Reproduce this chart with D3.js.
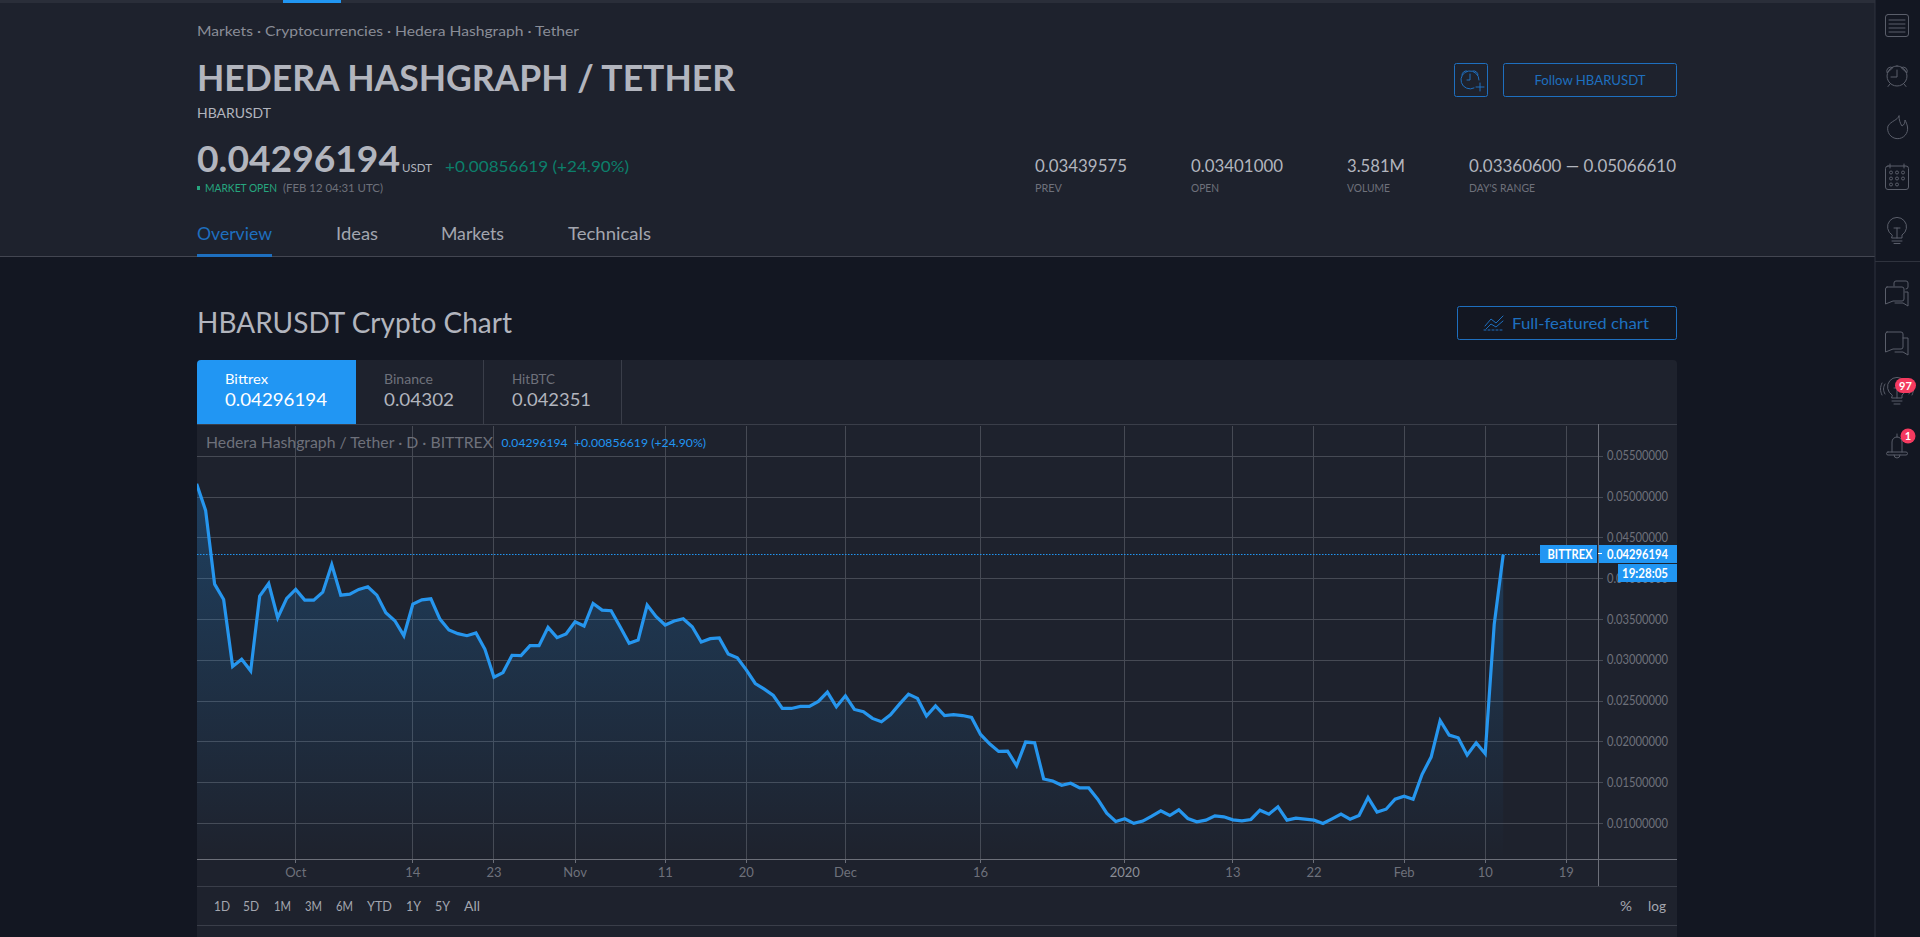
<!DOCTYPE html>
<html>
<head>
<meta charset="utf-8">
<title>HBARUSDT</title>
<script src="https://d3js.org/d3.v7.min.js"></script>
<style>
    html, body { margin: 0; padding: 0; background: #131722; overflow: hidden; }
    svg { display: block; }
    text { font-family: Lato, "Noto Sans", sans-serif; }
</style>
</head>
<body>
<div id="page"></div>
<script>
// Daily closes, first one is 20 Sep 2019
const firstDay = "2019-09-20";
const closes = [
    0.05163, 0.04837, 0.03933, 0.03745, 0.02923, 0.03012, 0.02870, 0.03786, 0.03941, 0.03521,
    0.03758, 0.03868, 0.03737, 0.03737, 0.03835, 0.04173, 0.03798, 0.03811, 0.03868, 0.03900,
    0.03798, 0.03582, 0.03485, 0.03301, 0.03688, 0.03741, 0.03753, 0.03505, 0.03371, 0.03326,
    0.03301, 0.03334, 0.03134, 0.02792, 0.02849, 0.03061, 0.03057, 0.03179, 0.03179, 0.03403,
    0.03277, 0.03322, 0.03472, 0.03420, 0.03696, 0.03615, 0.03607, 0.03411, 0.03208, 0.03248,
    0.03676, 0.03534, 0.03432, 0.03481, 0.03509, 0.03411, 0.03224, 0.03265, 0.03273, 0.03077,
    0.03029, 0.02882, 0.02715, 0.02646, 0.02568, 0.02409, 0.02409, 0.02434, 0.02434, 0.02495,
    0.02609, 0.02430, 0.02564, 0.02397, 0.02369, 0.02287, 0.02246, 0.02332, 0.02462, 0.02585,
    0.02532, 0.02316, 0.02440, 0.02322, 0.02334, 0.02322, 0.02298, 0.02090, 0.01976, 0.01883,
    0.01887, 0.01708, 0.01997, 0.01988, 0.01545, 0.01520, 0.01467, 0.01492, 0.01435, 0.01435,
    0.01297, 0.01126, 0.01024, 0.01056, 0.01000, 0.01028, 0.01089, 0.01154, 0.01097, 0.01166,
    0.01060, 0.01020, 0.01040, 0.01093, 0.01081, 0.01044, 0.01032, 0.01048, 0.01162, 0.01113,
    0.01203, 0.01040, 0.01064, 0.01052, 0.01040, 0.01000, 0.01056, 0.01113, 0.01052, 0.01097,
    0.01317, 0.01138, 0.01174, 0.01297, 0.01333, 0.01297, 0.01602, 0.01813, 0.02261, 0.02082,
    0.02049, 0.01838, 0.01988, 0.01854, 0.03440, 0.04296194
];
const lastPrice = 0.04296194;

const priceTicks = [0.01, 0.015, 0.02, 0.025, 0.03, 0.035, 0.04, 0.045, 0.05, 0.055];
const timeTickDays = ["2019-10-01", "2019-10-14", "2019-10-23", "2019-11-01", "2019-11-11", "2019-11-20", "2019-12-01",
    "2019-12-16", "2020-01-01", "2020-01-13", "2020-01-22", "2020-02-01", "2020-02-10", "2020-02-19"];
const timeTickLabels = ["Oct", "14", "23", "Nov", "11", "20", "Dec", "16", "2020", "13", "22", "Feb", "10", "19"];
const rangeButtons = ["1D", "5D", "1M", "3M", "6M", "YTD", "1Y", "5Y", "All"];
const navTabs = ["Overview", "Ideas", "Markets", "Technicals"];
const exchanges = ["Bittrex", "Binance", "HitBTC"];
const exchangePrices = ["0.04296194", "0.04302", "0.042351"];
const statValues = ["0.03439575", "0.03401000", "3.581M", "0.03360600 — 0.05066610"];
const statLabels = ["PREV", "OPEN", "VOLUME", "DAY'S RANGE"];

const width = 1920;
const height = 937;
const blue = "#2196f3";
const linkBlue = "#1e6fbf";
const panel = "#1e222d";
const grid = "#464a54";
const axisLine = "#6c6f79";
const dim = "#6e717b";
const soft = "#a3a6af";
const light = "#b2b5be";
const iconGray = "#5a5e6a";

const parseDay = d3.utcParse("%Y-%m-%d");
const days = closes.map((d, i) => d3.utcDay.offset(parseDay(firstDay), i));

const svg = d3.select("#page").append("svg")
    .attr("width", width)
    .attr("height", height);

// Small helper for all the page text, w squeezes the text to a measured width
function label(text, x, y, size, color, opts = {}) {
    const t = svg.append("text")
        .attr("x", x)
        .attr("y", y)
        .attr("font-size", size)
        .attr("fill", color)
        .attr("font-weight", opts.weight || 400)
        .attr("text-anchor", opts.anchor || "start")
        .text(text);
    if (opts.w) t.attr("textLength", opts.w).attr("lengthAdjust", "spacingAndGlyphs");
    return t;
}

function box(x, y, w, h, fill) {
    return svg.append("rect").attr("x", x).attr("y", y).attr("width", w).attr("height", h).attr("fill", fill);
}

function icon(d, color) {
    svg.append("path")
        .attr("d", d)
        .attr("fill", "none")
        .attr("stroke", color || iconGray)
        .attr("stroke-width", 1)
        .attr("stroke-linecap", "round")
        .attr("stroke-linejoin", "round");
}

// ---- Page backgrounds
box(0, 0, width, height, "#131722");
box(0, 0, 1875, 256, panel);
box(0, 0, 1875, 3, "#2a2e39");
box(283, 0, 58, 3, blue);
box(0, 256, 1875, 1, "#434651");
box(1874.5, 0, 1, height, "#2f333e");
box(1875, 261, 45, 1, "#2f333e");

// ---- Symbol header
label("Markets · Cryptocurrencies · Hedera Hashgraph · Tether", 197, 36, 13, "#8a8d97", { w: 382 });
label("HEDERA HASHGRAPH / TETHER", 197, 91, 36, light, { weight: 700, w: 538 });
label("HBARUSDT", 197, 118, 14, light, { w: 74 });
label("0.04296194", 197, 172, 36, light, { weight: 700, w: 203 });
label("USDT", 402, 172, 12, light, { w: 30 });
label("+0.00856619 (+24.90%)", 445, 172, 16, "#0c7f6b", { w: 184 });
box(197, 186, 3, 4, "#26a67f");
label("MARKET OPEN", 205, 192, 11, "#26a67f", { w: 72 });
label("(FEB 12 04:31 UTC)", 283, 192, 11, dim, { w: 100 });

const statX = [1035, 1191, 1347, 1469];
const statW = [92, 92, 58, 207];
const statLabelW = [27, 28, 43, 66];
statValues.forEach((d, i) => label(d, statX[i], 172, 17, light, { w: statW[i] }));
statLabels.forEach((d, i) => label(d, statX[i], 192, 11, dim, { w: statLabelW[i] }));

const navX = [197, 336, 441, 568];
const navW = [75, 42, 63, 83];
navTabs.forEach((d, i) => label(d, navX[i], 240, 17, i === 0 ? linkBlue : soft, { w: navW[i] }));
box(197, 254, 75, 3, linkBlue);

// Alert and follow buttons
svg.append("rect").attr("x", 1454.5).attr("y", 63.5).attr("width", 33).attr("height", 33).attr("rx", 2)
    .attr("fill", "none").attr("stroke", linkBlue);
svg.append("rect").attr("x", 1503.5).attr("y", 63.5).attr("width", 173).attr("height", 33).attr("rx", 2)
    .attr("fill", "none").attr("stroke", linkBlue);
label("Follow HBARUSDT", 1590, 85, 14, linkBlue, { anchor: "middle", w: 111 });
icon("M1474 88A9 9 0 1 1 1479 80 M1470 74V80H1467 M1462 75a4 4 0 0 1 5-4 M1478 75a4 4 0 0 0-5-4 M1480 83V91 M1476 87H1484", linkBlue);

// ---- Chart section title
label("HBARUSDT Crypto Chart", 197, 333, 28, light, { w: 315 });
svg.append("rect").attr("x", 1457.5).attr("y", 306.5).attr("width", 219).attr("height", 33).attr("rx", 2)
    .attr("fill", "none").attr("stroke", linkBlue);
label("Full-featured chart", 1512, 329, 15, linkBlue, { w: 137 });
icon("M1485 326l6-7 5 4 7-7", linkBlue);
icon("M1484 330h2 M1488 330h2 M1492 330h2 M1496 330h2 M1500 330h2 M1486 329l5-5 5 3 7-6", linkBlue);

// ---- Chart panel, only the top corners are rounded
svg.append("path")
    .attr("d", "M197 937V364a4 4 0 0 1 4-4H1673a4 4 0 0 1 4 4V937Z")
    .attr("fill", panel);
svg.append("path")
    .attr("d", "M197 424V364a4 4 0 0 1 4-4H356V424Z")
    .attr("fill", blue);
box(483, 360, 1, 64, "#3a3e49");
box(621, 360, 1, 64, "#3a3e49");
box(197, 424, 1480, 1, "#3a3e49");

const exchangeX = [225, 384, 512];
const exchangeNameW = [43, 49, 43];
const exchangePriceW = [102, 70, 79];
exchanges.forEach((d, i) => label(d, exchangeX[i], 384, 13, i === 0 ? "#ffffff" : dim, { w: exchangeNameW[i] }));
exchangePrices.forEach((d, i) => label(d, exchangeX[i], 406, 18, i === 0 ? "#ffffff" : light, { w: exchangePriceW[i] }));

// ---- Scales
const x = d3.scaleUtc()
    .domain([parseDay(firstDay), parseDay("2020-02-19")])
    .range([196.6, 1566.3]);
const y = d3.scaleLinear()
    .domain([0.01, 0.055])
    .range([823.4, 456.3]);

const plotBottom = 859;
const plotRight = 1598;
const plotTop = 424;
const plotLeft = 197;
const tickDates = timeTickDays.map(parseDay);

// ---- Grid lines
const xGrid = svg.append("g")
    .attr("transform", `translate(0,${plotBottom})`)
    .attr("shape-rendering", "crispEdges")
    .call(d3.axisBottom(x).offset(0).tickValues(tickDates).tickSize(-(plotBottom - plotTop - 2)).tickFormat(""));
xGrid.select(".domain").remove();
xGrid.selectAll("line").attr("stroke", grid);

const yGrid = svg.append("g")
    .attr("transform", `translate(${plotRight},0)`)
    .attr("shape-rendering", "crispEdges")
    .call(d3.axisLeft(y).offset(0).tickValues(priceTicks).tickSize(plotRight - plotLeft).tickFormat(""));
yGrid.select(".domain").remove();
yGrid.selectAll("line").attr("stroke", grid);

// ---- Area and line
const defs = svg.append("defs");
defs.append("clipPath").attr("id", "plot-clip")
    .append("rect")
    .attr("x", plotLeft).attr("y", plotTop)
    .attr("width", plotRight - plotLeft).attr("height", plotBottom - plotTop);

const areaFill = defs.append("linearGradient")
    .attr("id", "area-fill")
    .attr("gradientUnits", "userSpaceOnUse")
    .attr("x1", 0).attr("y1", y(d3.max(closes)))
    .attr("x2", 0).attr("y2", plotBottom);
areaFill.append("stop").attr("offset", "0%").attr("stop-color", blue).attr("stop-opacity", 0.26);
areaFill.append("stop").attr("offset", "100%").attr("stop-color", blue).attr("stop-opacity", 0);

const plot = svg.append("g").attr("clip-path", "url(#plot-clip)");
plot.append("path")
    .datum(closes)
    .attr("d", d3.area().x((d, i) => x(days[i])).y0(plotBottom).y1(d => y(d)))
    .attr("fill", "url(#area-fill)");
plot.append("path")
    .datum(closes)
    .attr("d", d3.line().x((d, i) => x(days[i])).y(d => y(d)))
    .attr("fill", "none")
    .attr("stroke", "#2696ee")
    .attr("stroke-width", 3.2)
    .attr("stroke-linejoin", "miter");

// Last price dotted line
svg.append("line")
    .attr("x1", plotLeft).attr("x2", 1540)
    .attr("y1", y(lastPrice)).attr("y2", y(lastPrice))
    .attr("stroke", blue)
    .attr("stroke-dasharray", "1.5,1.5");

// ---- Axes
const xAxis = svg.append("g")
    .attr("transform", `translate(0,${plotBottom})`)
    .call(d3.axisBottom(x).offset(0).tickValues(tickDates).tickSize(4).tickPadding(5).tickFormat((d, i) => timeTickLabels[i]));
xAxis.select(".domain").remove();
xAxis.selectAll("line").attr("stroke", axisLine).attr("shape-rendering", "crispEdges");
xAxis.selectAll("text")
    .attr("font-family", null)
    .attr("font-size", 13)
    .attr("fill", (d, i) => timeTickLabels[i] === "2020" ? "#8b8e97" : dim);

const yAxis = svg.append("g")
    .attr("transform", `translate(${plotRight},0)`)
    .call(d3.axisRight(y).offset(0).tickValues(priceTicks).tickSize(5).tickPadding(4).tickFormat(d3.format(".8f")));
yAxis.select(".domain").remove();
yAxis.selectAll("line").attr("stroke", grid).attr("shape-rendering", "crispEdges");
yAxis.selectAll("text")
    .attr("font-family", null)
    .attr("font-size", 13)
    .attr("fill", dim)
    .attr("textLength", 61)
    .attr("lengthAdjust", "spacingAndGlyphs");

box(plotLeft, plotBottom, 1480, 1, axisLine);
box(plotRight, plotTop, 1, 886 - plotTop, axisLine);
box(plotLeft, 886, 1480, 1, "#3a3e49");
box(plotLeft, 925, 1480, 1, "#3a3e49");

// ---- Last price tags, the time tag sits over the 0.04 tick like in the original
box(1540, 545, 57, 18, blue);
box(plotRight + 1, 545, 78, 18, blue);
box(1618, 564, 59, 18, blue);
box(plotRight, 553, 4, 1, "#ffffff");
label("BITTREX", 1570, 558.5, 13, "#ffffff", { anchor: "middle", weight: 700, w: 45 });
label("0.04296194", 1607, 558.5, 13, "#ffffff", { weight: 700, w: 61 });
label("19:28:05", 1645, 577.5, 13, "#ffffff", { anchor: "middle", weight: 700, w: 46 });

// ---- Chart legend
label("Hedera Hashgraph / Tether · D · BITTREX", 206, 448, 15, dim, { w: 287 });
label("0.04296194", 501.5, 447, 12, blue, { w: 66 });
label("+0.00856619 (+24.90%)", 574, 447, 12, blue, { w: 132 });

// ---- Range buttons under the chart
const rangeX = [214, 243, 274, 305, 336, 367, 406, 435, 464];
const rangeW = [16, 16, 17, 17, 17, 25, 15, 15, 16];
rangeButtons.forEach((d, i) => label(d, rangeX[i], 911, 13, soft, { w: rangeW[i] }));
label("%", 1620, 911, 13, soft, { w: 12 });
label("log", 1648, 911, 13, soft, { w: 18 });

// ---- Right hand toolbar icons
// List
icon("M1888 14.5H1906a2.5 2.5 0 0 1 2.5 2.5V34a2.5 2.5 0 0 1-2.5 2.5H1888a2.5 2.5 0 0 1-2.5-2.5V17a2.5 2.5 0 0 1 2.5-2.5Z");
icon("M1889 20H1905 M1889 24H1905 M1889 28H1905 M1889 32H1905");
// Alarm clock
icon("M1897 66a10 10 0 1 0 .01 0Z M1897 70V77H1891 M1887 72.500a4 4 0 0 1 5.500-5Z M1907 72.500a4 4 0 0 0-5.500-5Z M1890 84l-2 2.500 M1904 84l2 2.500");
// Flame
icon("M1899 116C1898 120 1891 121 1888 126A10 10 0 1 0 1907.500 127C1907 124 1906 122 1905 120C1905 123 1904 125 1902 126C1900 123 1899 120 1899 116Z");
// Calendar
icon("M1888 166H1906a2.5 2.5 0 0 1 2.5 2.5V187a2.5 2.5 0 0 1-2.5 2.5H1888a2.5 2.5 0 0 1-2.5-2.5V168.5a2.5 2.5 0 0 1 2.5-2.5Z M1890 164V168 M1904 164V168");
[1891, 1897, 1903].forEach(cx => [172.5, 178.5, 184.5].forEach((cy, row) => {
    if (row === 2 && cx === 1903) return;
    svg.append("circle").attr("cx", cx).attr("cy", cy).attr("r", 1.5)
        .attr("fill", "none").attr("stroke", iconGray);
}));
// Bulb
icon("M1892 235a9.5 9.5 0 1 1 10 0V238H1892Z M1894 228h6 M1897 228V238 M1892 241h10 M1894 243.5h6");
// Two chats
icon("M1894 286V283a2 2 0 0 1 2-2H1906a2 2 0 0 1 2 2V287a2 2 0 0 1-2 2 M1887 287H1902a2 2 0 0 1 2 2V299a2 2 0 0 1-2 2H1893l-7.5 3V289a2 2 0 0 1 1.5-2Z M1905 292H1908V306l-5-3H1895");
// Single chat
icon("M1887 332H1901a2 2 0 0 1 2 2V347a2 2 0 0 1-2 2H1893l-7.5 3V334a2 2 0 0 1 1.5-2Z M1903 338H1908V355l-5-3H1895");
// Bulb with sound waves
icon("M1892 395a9.5 9.5 0 1 1 10 0V398H1892Z M1894 388h6 M1897 388V398 M1892 401h10 M1894 404h6 M1885 384c-2 3-2 7 0 10 M1882 383c-2 4-2 8 0 12 M1909 384c2 3 2 7 0 10 M1912 383c2 4 2 8 0 12");
// Bell
icon("M1892 452V442a5 5 0 0 1 5-5 5 5 0 0 1 5 5V452 M1888 452H1906a1.5 1.5 0 0 1 0 3H1888a1.5 1.5 0 0 1 0-3Z M1894 455a3 3 0 0 0 6 0 M1897 437V434");

// Notification badges
svg.append("rect").attr("x", 1895).attr("y", 378).attr("width", 21).attr("height", 15).attr("rx", 7.5).attr("fill", "#f43a5f");
label("97", 1905.5, 389.5, 11, "#ffffff", { anchor: "middle", weight: 700 });
svg.append("circle").attr("cx", 1908).attr("cy", 436).attr("r", 7.5).attr("fill", "#f43a5f");
label("1", 1908, 440, 11, "#ffffff", { anchor: "middle", weight: 700 });
</script>
</body>
</html>
